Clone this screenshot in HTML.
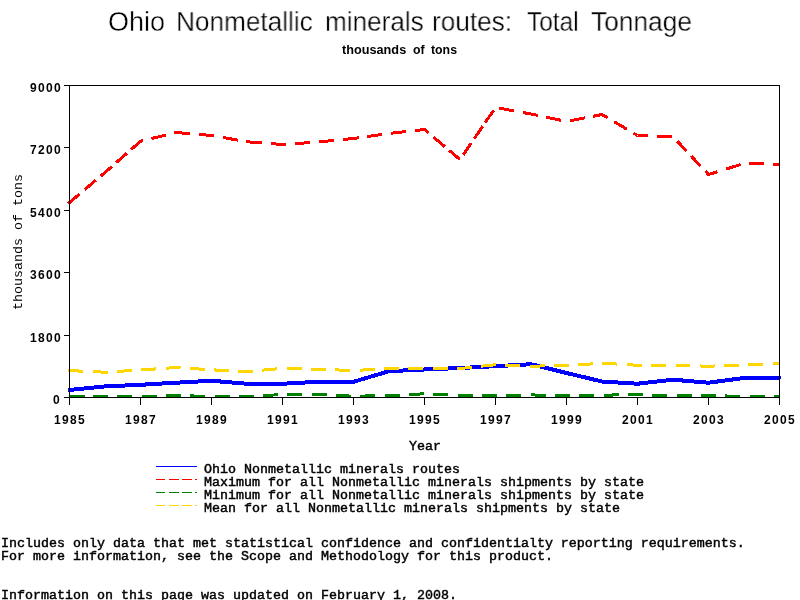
<!DOCTYPE html>
<html><head><meta charset="utf-8"><title>Ohio Nonmetallic minerals routes: Total Tonnage</title>
<style>
html,body{margin:0;padding:0;background:#fff;}
body{width:800px;height:600px;position:relative;overflow:hidden;font-family:"Liberation Sans",sans-serif;color:#000;}
.t{position:absolute;white-space:pre;line-height:1;will-change:transform;}
.title{font-family:"Liberation Sans",sans-serif;font-size:27px;top:9px;transform-origin:0 0;-webkit-text-stroke:0.35px #fff;}
.sub{font-family:"Liberation Sans",sans-serif;font-weight:bold;font-size:12.3px;transform-origin:0 0;}
.ax{font-family:"Liberation Sans",sans-serif;font-weight:bold;font-size:12px;letter-spacing:1.3px;}
.m{font-family:"Liberation Mono",monospace;font-weight:normal;font-size:13.333px;letter-spacing:0;-webkit-text-stroke:0.45px #000;}
.v{font-family:"Liberation Mono",monospace;font-weight:normal;font-size:13.333px;transform-origin:0 0;transform:rotate(-90deg);}
svg{position:absolute;left:0;top:0;}
</style></head><body>

<svg width="800" height="600" viewBox="0 0 800 600" shape-rendering="crispEdges">
<polyline points="69.5,390.00 105.0,386.40 140.5,384.80 176.0,382.70 211.5,380.75 247.0,383.75 282.5,383.75 318.0,381.80 353.5,381.80 389.0,371.20 424.5,369.50 460.0,368.00 495.5,366.20 531.0,364.20 566.5,373.00 602.0,381.50 637.5,383.75 673.0,379.70 708.5,382.70 744.0,378.00 779.5,377.75" fill="none" stroke="#0000ff" stroke-width="4" stroke-linejoin="round" stroke-linecap="round"/>
<path fill="none" stroke="#ff0000" stroke-width="3" stroke-linejoin="round" d="M68.25 203.56 L69.50 202.50 L79.50 194.05 M84.75 189.61 L96.00 180.11 M100.50 176.30 L105.00 172.50 L111.75 166.56 M116.25 162.60 L126.75 153.35 M131.25 149.39 L140.50 141.25 L143.00 140.63 M151.50 138.54 L165.75 135.03 M174.20 132.94 L176.00 132.50 L190.00 133.68 M199.00 134.44 L211.50 135.50 L214.00 135.94 M223.00 137.52 L238.00 140.17 M246.20 141.61 L247.00 141.75 L262.00 142.91 M271.00 143.61 L282.50 144.50 L286.00 144.25 M295.00 143.62 L310.00 142.56 M319.00 141.90 L334.00 140.42 M343.00 139.54 L353.50 138.50 L358.75 137.75 M367.00 136.56 L382.25 134.37 M391.00 133.18 L406.00 131.53 M415.00 130.54 L424.50 129.50 L428.75 133.09 M433.25 136.89 L444.80 146.65 M449.30 150.46 L459.80 159.33 M463.25 154.74 L471.20 143.09 M474.20 138.70 L482.75 126.18 M485.25 122.51 L493.50 110.43 M499.20 108.18 L513.75 110.84 M523.20 112.57 L531.00 114.00 L537.75 115.43 M546.30 117.23 L561.00 120.34 M570.00 120.81 L584.85 117.88 M593.20 116.24 L602.00 114.50 L607.75 117.90 M614.20 121.72 L627.00 129.29 M633.25 132.99 L637.50 135.50 L648.00 135.83 M657.25 136.11 L672.00 136.57 M677.20 141.08 L686.60 151.12 M691.10 155.92 L700.70 166.17 M705.20 170.98 L708.50 174.50 L717.50 171.71 M726.20 169.02 L740.75 164.51 M749.00 163.61 L763.70 163.92 M773.00 164.11 L779.50 164.25"/>
<path fill="none" stroke="#008000" stroke-width="3" stroke-linejoin="round" d="M69.75 396.50 L84.50 396.50 M93.30 396.50 L105.00 396.50 L108.05 396.50 M117.30 396.50 L132.05 396.50 M142.00 396.46 L156.75 396.04 M166.00 395.78 L176.00 395.50 L180.75 395.63 M190.25 395.90 L205.00 396.32 M215.00 396.50 L229.75 396.50 M239.00 396.50 L247.00 396.50 L253.75 396.12 M263.30 395.58 L278.05 394.75 M287.00 394.50 L301.75 394.50 M312.25 394.50 L318.00 394.50 L327.00 394.93 M336.25 395.37 L351.00 396.08 M360.00 396.09 L374.75 395.84 M385.00 395.67 L389.00 395.60 L399.75 395.05 M409.00 394.59 L423.75 393.84 M433.25 394.22 L448.00 394.93 M458.00 395.40 L460.00 395.50 L472.75 395.50 M482.00 395.50 L495.50 395.50 L496.75 395.48 M506.00 395.34 L520.75 395.11 M531.00 394.95 L545.75 395.18 M555.00 395.32 L566.50 395.50 L569.75 395.48 M579.00 395.43 L593.75 395.35 M604.00 395.24 L618.75 394.83 M628.00 394.57 L637.50 394.30 L642.75 394.55 M652.00 394.99 L666.75 395.70 M677.20 395.94 L691.95 395.73 M701.00 395.61 L708.50 395.50 L715.75 395.70 M725.00 395.96 L739.75 396.38 M750.00 396.50 L764.75 396.50 M774.20 396.50 L779.50 396.50"/>
<path fill="none" stroke="#ffd700" stroke-width="3" stroke-linejoin="round" d="M68.25 370.54 L69.50 370.60 L83.00 371.21 M93.30 371.67 L105.00 372.20 L108.05 372.01 M117.30 371.44 L132.05 370.52 M141.30 369.94 L156.05 368.90 M165.75 368.22 L176.00 367.50 L180.50 367.79 M190.25 368.42 L205.00 369.38 M214.25 369.94 L229.00 370.69 M238.25 371.16 L247.00 371.60 L253.00 371.04 M262.25 370.18 L277.00 368.81 M287.00 368.41 L301.75 368.79 M311.00 369.02 L318.00 369.20 L325.75 369.51 M335.00 369.87 L349.75 370.45 M360.00 370.20 L374.75 369.28 M384.25 368.69 L389.00 368.40 L399.00 368.37 M408.00 368.35 L422.75 368.30 M433.25 368.35 L448.00 368.43 M457.25 368.48 L460.00 368.50 L472.00 367.22 M481.25 366.23 L495.50 364.70 L496.00 364.72 M505.20 365.11 L519.95 365.73 M530.25 366.17 L531.00 366.20 L545.00 365.92 M554.25 365.74 L566.50 365.50 L569.00 365.34 M578.25 364.74 L593.00 363.78 M602.20 363.21 L616.95 364.08 M627.25 364.69 L637.50 365.30 L642.00 365.30 M651.25 365.30 L666.00 365.30 M675.70 365.37 L690.45 365.74 M700.25 365.99 L708.50 366.20 L715.00 365.98 M724.25 365.67 L739.00 365.17 M748.25 364.82 L763.00 364.20 M773.00 363.77 L779.50 363.50"/>
<g shape-rendering="crispEdges" stroke="#000" stroke-width="1" fill="none">
<rect x="69.5" y="85.5" width="710" height="312"/>
<line x1="64" y1="85.5" x2="69" y2="85.5"/>
<line x1="64" y1="147.9" x2="69" y2="147.9"/>
<line x1="64" y1="210.3" x2="69" y2="210.3"/>
<line x1="64" y1="272.7" x2="69" y2="272.7"/>
<line x1="64" y1="335.1" x2="69" y2="335.1"/>
<line x1="64" y1="397.5" x2="69" y2="397.5"/>
<line x1="69.5" y1="397" x2="69.5" y2="405"/>
<line x1="140.5" y1="397" x2="140.5" y2="405"/>
<line x1="211.5" y1="397" x2="211.5" y2="405"/>
<line x1="282.5" y1="397" x2="282.5" y2="405"/>
<line x1="353.5" y1="397" x2="353.5" y2="405"/>
<line x1="424.5" y1="397" x2="424.5" y2="405"/>
<line x1="495.5" y1="397" x2="495.5" y2="405"/>
<line x1="566.5" y1="397" x2="566.5" y2="405"/>
<line x1="637.5" y1="397" x2="637.5" y2="405"/>
<line x1="708.5" y1="397" x2="708.5" y2="405"/>
<line x1="779.5" y1="397" x2="779.5" y2="405"/>
</g>
<g shape-rendering="crispEdges" stroke-width="1" fill="none">
<line x1="156" y1="466.5" x2="197" y2="466.5" stroke="#0000ff"/>
<line x1="156" y1="479.5" x2="165" y2="479.5" stroke="#ff0000"/>
<line x1="169" y1="479.5" x2="179" y2="479.5" stroke="#ff0000"/>
<line x1="182" y1="479.5" x2="192" y2="479.5" stroke="#ff0000"/>
<line x1="195" y1="479.5" x2="197" y2="479.5" stroke="#ff0000"/>
<line x1="156" y1="492.5" x2="165" y2="492.5" stroke="#008000"/>
<line x1="169" y1="492.5" x2="179" y2="492.5" stroke="#008000"/>
<line x1="182" y1="492.5" x2="192" y2="492.5" stroke="#008000"/>
<line x1="195" y1="492.5" x2="197" y2="492.5" stroke="#008000"/>
<line x1="156" y1="505.5" x2="165" y2="505.5" stroke="#ffd700"/>
<line x1="169" y1="505.5" x2="179" y2="505.5" stroke="#ffd700"/>
<line x1="182" y1="505.5" x2="192" y2="505.5" stroke="#ffd700"/>
<line x1="195" y1="505.5" x2="197" y2="505.5" stroke="#ffd700"/>
</g>
</svg>
<span class="t title" style="left:107.80px;transform:scaleX(1.0000)">Ohio</span>
<span class="t title" style="left:175.98px;transform:scaleX(0.9700)">Nonmetallic</span>
<span class="t title" style="left:324.74px;transform:scaleX(0.9675)">minerals</span>
<span class="t title" style="left:431.90px;transform:scaleX(0.9700)">routes:</span>
<span class="t title" style="left:526.89px;transform:scaleX(0.9048)">Total</span>
<span class="t title" style="left:590.98px;transform:scaleX(0.9750)">Tonnage</span>
<span class="t sub" style="left:341.50px;top:44px;transform:scaleX(1.0325)">thousands</span>
<span class="t sub" style="left:412.50px;top:44px;transform:scaleX(1.0000)">of</span>
<span class="t sub" style="left:431.00px;top:44px;transform:scaleX(1.0015)">tons</span>
<span class="t ax" style="right:738.6px;top:82.0px">9000</span>
<span class="t ax" style="right:738.6px;top:144.4px">7200</span>
<span class="t ax" style="right:738.6px;top:206.8px">5400</span>
<span class="t ax" style="right:738.6px;top:269.2px">3600</span>
<span class="t ax" style="right:738.6px;top:331.6px">1800</span>
<span class="t ax" style="right:738.6px;top:394.0px">0</span>
<span class="t ax" style="left:54.3px;top:413.5px">1985</span>
<span class="t ax" style="left:125.3px;top:413.5px">1987</span>
<span class="t ax" style="left:196.3px;top:413.5px">1989</span>
<span class="t ax" style="left:267.3px;top:413.5px">1991</span>
<span class="t ax" style="left:338.3px;top:413.5px">1993</span>
<span class="t ax" style="left:409.3px;top:413.5px">1995</span>
<span class="t ax" style="left:480.3px;top:413.5px">1997</span>
<span class="t ax" style="left:551.3px;top:413.5px">1999</span>
<span class="t ax" style="left:622.3px;top:413.5px">2001</span>
<span class="t ax" style="left:693.3px;top:413.5px">2003</span>
<span class="t ax" style="left:764.3px;top:413.5px">2005</span>
<span class="t m" style="left:408.5px;top:440px">Year</span>
<span class="t m" style="left:203.7px;top:463px">Ohio Nonmetallic minerals routes</span>
<span class="t m" style="left:203.7px;top:476px">Maximum for all Nonmetallic minerals shipments by state</span>
<span class="t m" style="left:203.7px;top:489px">Minimum for all Nonmetallic minerals shipments by state</span>
<span class="t m" style="left:203.7px;top:502px">Mean for all Nonmetallic minerals shipments by state</span>
<span class="t m" style="left:0.6px;top:537px">Includes only data that met statistical confidence and confidentialty reporting requirements.</span>
<span class="t m" style="left:0.6px;top:550px">For more information, see the Scope and Methodology for this product.</span>
<span class="t m" style="left:0.6px;top:589px">Information on this page was updated on February 1, 2008.</span>
<span class="t v" style="left:12px;top:310px">thousands of tons</span>
</body></html>
